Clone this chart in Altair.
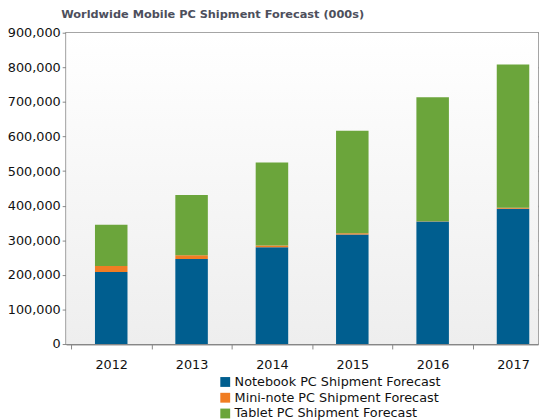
import pandas as pd
import altair as alt

# values (thousands of units, stacked)
years = [2012, 2013, 2014, 2015, 2016, 2017]
notebook = [208000, 245500, 280000, 317000, 354000, 391000]
mini_note = [17500, 11500, 5000, 3500, 1000, 3000]
tablet = [119500, 174000, 240000, 296000, 358500, 414000]

series = ["Notebook PC Shipment Forecast",
          "Mini-note PC Shipment Forecast",
          "Tablet PC Shipment Forecast"]
colors = ["#005E8F", "#F07D23", "#6BA53B"]

y_ticks = [0, 100000, 200000, 300000, 400000, 500000, 600000, 700000, 800000, 900000]
# ticks sit between the years, labels on the years
x_ticks = [2011.5, 2012, 2012.5, 2013, 2013.5, 2014, 2014.5, 2015,
           2015.5, 2016, 2016.5, 2017]

rows = []
for i, vals in enumerate([notebook, mini_note, tablet]):
    for yr, v in zip(years, vals):
        rows.append({"year": yr, "series": series[i], "value": v, "order": i})
data = pd.DataFrame(rows)

W, H = 479, 316
grey = "#878787"
bg_gradient = alt.LinearGradient(
    gradient="linear", x1=0, y1=0, x2=0, y2=1,
    stops=[alt.GradientStop(offset=0, color="#ffffff"),
           alt.GradientStop(offset=1, color="#eeeeee")])

# plot-area background (white fading to light grey)
background = alt.Chart(pd.DataFrame({"bg": [0]})).mark_rect(color=bg_gradient).encode(
    x=alt.value(0), x2=alt.value(W), y=alt.value(0), y2=alt.value(H))

bars = alt.Chart(data).mark_bar(width=33, orient="vertical").encode(
    x=alt.X("year:Q",
            scale=alt.Scale(domain=[2011.5, 2017.25], nice=False, zero=False),
            axis=alt.Axis(values=x_ticks, title=None, grid=False,
                          labelExpr="datum.value % 1 == 0 ? datum.value + '' : ''",
                          tickOpacity={"condition": {"test": "datum.value % 1 == 0", "value": 0},
                                       "value": 1},
                          tickSize=5, labelPadding=10, labelOverlap=False, labelFlush=False)),
    y=alt.Y("value:Q", stack="zero",
            scale=alt.Scale(domain=[0, 900000], nice=False),
            axis=alt.Axis(values=y_ticks, format=",.0f", title=None, grid=True,
                          tickSize=4, labelPadding=2)),
    color=alt.Color("series:N",
                    scale=alt.Scale(domain=series, range=colors),
                    legend=alt.Legend(title=None, orient="none", legendX=155, legendY=348,
                                      symbolType="square", symbolSize=100, symbolStrokeWidth=0,
                                      labelFontSize=13, labelFont="DejaVu Sans", labelColor="#111111",
                                      rowPadding=2, labelOffset=3, padding=0, labelLimit=400)),
    order=alt.Order("order:Q"),
)

chart = alt.layer(background, bars).properties(
    width=W, height=H,
    autosize=alt.AutoSizeParams(type="none"),
    padding={"left": 59, "top": 22, "right": 2, "bottom": 74},
    title=alt.Title("Worldwide Mobile PC Shipment Forecast (000s)", anchor="start", frame="group",
                    font="DejaVu Sans", fontSize=11.5, fontWeight="bold", color="#4d4f5c",
                    baseline="alphabetic", offset=6, dx=-5, dy=9),
).configure_axis(
    labelFont="DejaVu Sans", labelFontSize=13, labelColor="#111111",
    domainColor=grey, tickColor=grey, gridColor=grey, gridWidth=1.5, domainWidth=1.5,
).configure_view(
    stroke=grey, strokeWidth=1.5,
)

chart.save("out.html", embed_options={"renderer": "svg", "actions": False})
